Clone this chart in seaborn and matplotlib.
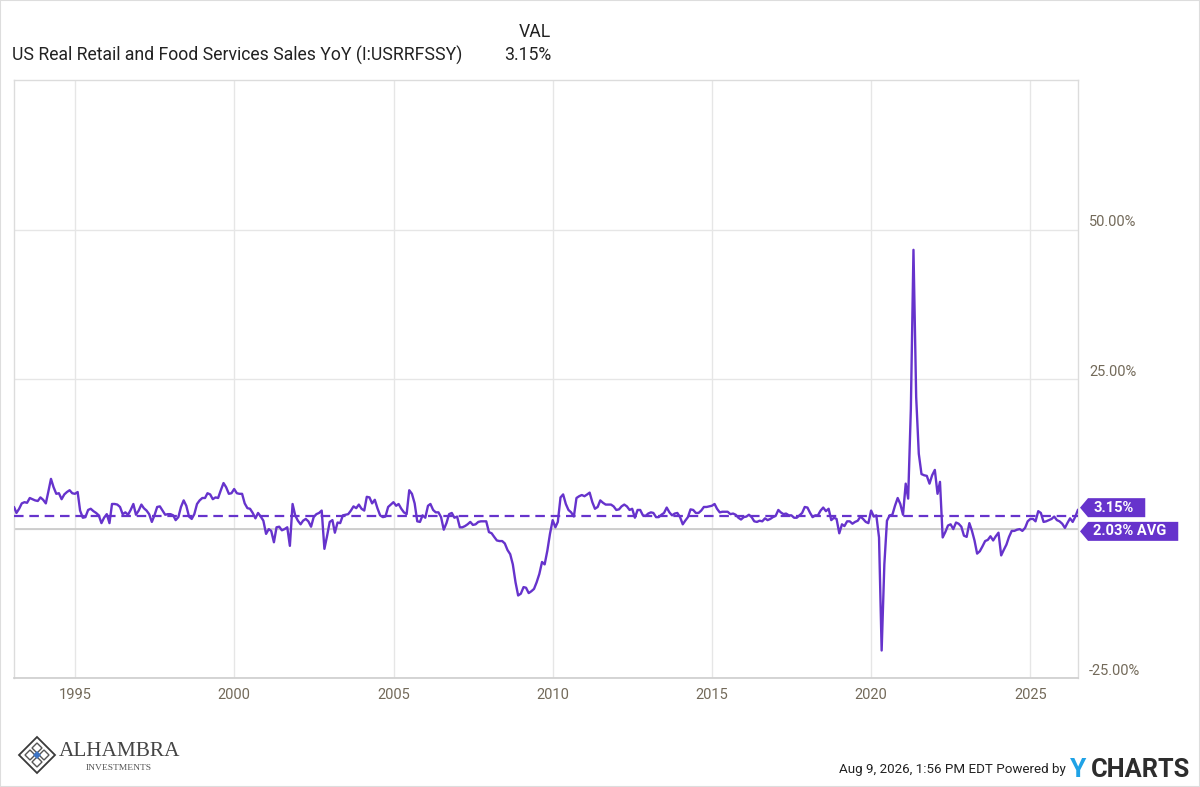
import pandas as pd
import matplotlib.pyplot as plt
import seaborn as sns
from matplotlib.patches import Polygon, Rectangle
from matplotlib.transforms import IdentityTransform

# monthly YoY % change (Jan 1993 .. Jun 2026)
y1993 = [3.6, 2.6, 3.3, 4.2, 4.4, 4.3, 5.1, 4.9, 4.7, 4.6, 5.2, 4.8]
y1994 = [4.2, 6.1, 8.3, 6.9, 5.8, 5.9, 4.9, 5.7, 6.1, 6.4, 5.9, 5.8]
y1995 = [6.1, 3.0, 1.8, 1.9, 3.1, 3.3, 2.9, 2.6, 2.2, 0.9, 1.8, 2.4]
y1996 = [0.9, 4.1, 4.1, 4.0, 3.6, 2.4, 2.7, 2.3, 3.1, 4.1, 2.3, 3.0]
y1997 = [4.0, 3.4, 3.0, 2.4, 1.1, 2.2, 3.6, 3.7, 3.0, 2.3, 2.4, 2.4]
y1998 = [2.2, 1.4, 1.9, 3.6, 4.7, 3.8, 2.0, 1.6, 2.4, 4.1, 4.7, 5.1]
y1999 = [5.1, 5.9, 5.7, 4.9, 5.2, 5.1, 6.4, 7.6, 6.9, 5.8, 5.9, 6.6]
y2000 = [5.9, 5.8, 5.8, 4.2, 3.4, 3.3, 2.6, 1.7, 2.6, 2.0, 1.3, -0.9]
y2001 = [-0.1, -0.4, -2.3, 0.2, 0.3, -0.3, -0.1, 0.2, -2.9, 4.1, 2.2, 1.3]
y2002 = [0.7, 1.3, 1.6, 1.2, 0.3, 1.9, 2.4, 2.6, 3.0, -3.4, -1.3, 1.1]
y2003 = [1.4, -0.7, 1.0, 0.9, 2.2, 2.3, 2.4, 3.0, 3.7, 3.4, 4.0, 3.3]
y2004 = [3.0, 5.3, 5.2, 4.2, 4.8, 3.4, 2.2, 1.9, 2.0, 3.6, 4.0, 4.4]
y2005 = [3.8, 4.1, 3.3, 2.7, 2.4, 6.4, 5.8, 4.2, 1.2, 1.1, 2.2, 1.8]
y2006 = [3.8, 4.1, 3.1, 2.7, 2.7, 1.9, -0.2, 0.9, 2.4, 2.6, 1.8, 2.0]
y2007 = [0.2, 0.2, 0.4, 0.7, 1.1, 0.6, 0.7, 1.1, 1.2, 1.2, 1.2, -0.6]
y2008 = [-0.8, -1.4, -2.0, -2.1, -2.1, -2.5, -3.6, -4.3, -6.0, -9.0, -11.2, -10.9]
y2009 = [-9.8, -9.9, -10.8, -10.5, -10.1, -9.0, -7.6, -5.6, -6.0, -3.7, -0.9, 1.4]
y2010 = [0.2, 1.1, 5.2, 5.7, 4.1, 3.1, 2.7, 2.0, 5.1, 5.4, 5.6, 5.4]
y2011 = [5.7, 6.0, 4.4, 3.3, 3.6, 4.7, 4.3, 4.0, 4.0, 4.0, 3.7, 3.1]
y2012 = [3.2, 3.7, 4.0, 3.7, 3.1, 3.3, 1.8, 3.1, 3.1, 2.2, 2.1, 2.5]
y2013 = [2.7, 2.6, 1.9, 1.9, 2.3, 2.6, 3.5, 2.7, 2.2, 2.5, 2.6, 1.9]
y2014 = [0.7, 1.3, 1.9, 3.2, 3.1, 2.6, 2.6, 3.0, 3.6, 3.6, 3.7, 3.8]
y2015 = [4.1, 3.3, 2.7, 2.8, 2.8, 2.8, 2.4, 2.5, 2.3, 1.8, 1.5, 1.9]
y2016 = [2.0, 2.3, 1.9, 1.2, 1.1, 1.3, 1.2, 1.7, 1.4, 1.6, 1.9, 2.1]
y2017 = [3.1, 2.7, 2.4, 2.5, 2.2, 2.2, 1.8, 1.8, 2.2, 2.6, 3.6, 3.5]
y2018 = [2.6, 1.9, 2.2, 2.2, 3.0, 3.5, 2.9, 3.3, 1.4, 1.8, 1.6, -0.8]
y2019 = [0.7, 0.4, 1.2, 1.2, 0.8, 1.1, 1.3, 2.0, 1.6, 1.1, 0.9, 3.0]
y2020 = [2.0, 2.2, -1.5, -20.4, -6.0, 1.3, 2.2, 2.3, 3.8, 5.1, 4.1, 2.3]
y2021 = [7.5, 5.0, 20.0, 46.6, 22.0, 12.5, 9.1, 8.9, 8.8, 7.5, 8.9, 9.8]
y2022 = [5.8, 7.8, -1.5, -0.6, 0.5, 0.7, -0.1, 1.0, 0.8, 0.3, -1.2, -1.4]
y2023 = [0.9, -0.3, -2.0, -4.2, -3.8, -3.0, -2.1, -1.9, -1.3, -2.0, -1.3, -0.7]
y2024 = [-4.5, -3.6, -2.7, -1.4, -0.4, -0.4, -0.2, -0.1, -0.4, 0.1, 1.2, 1.6]
y2025 = [1.6, 1.2, 2.9, 2.6, 1.1, 1.2, 1.4, 1.6, 2.0, 1.4, 1.2, 0.8]
y2026 = [0.1, 0.9, 1.7, 1.1, 2.0, 3.15]

values = (y1993 + y1994 + y1995 + y1996 + y1997 + y1998 + y1999 + y2000
          + y2001 + y2002 + y2003 + y2004 + y2005 + y2006 + y2007 + y2008
          + y2009 + y2010 + y2011 + y2012 + y2013 + y2014 + y2015 + y2016
          + y2017 + y2018 + y2019 + y2020 + y2021 + y2022 + y2023 + y2024
          + y2025 + y2026)
dates = pd.date_range("1993-01-31", periods=len(values), freq="ME")

last_value = 3.15
avg_value = 2.03
y_ticks = [-25, 0, 25, 50]
y_tick_labels = ["-25.00%", "", "25.00%", "50.00%"]   # zero line carries no label
x_years = [1995, 2000, 2005, 2010, 2015, 2020, 2025]
series_name = "US Real Retail and Food Services Sales YoY (I:USRRFSSY)"

PURPLE = "#6633cc"
TICK_COLOR = "#736a5a"
GRID = "#e6e6e6"

sns.set_theme(style="white")
plt.rcParams["font.family"] = ["Roboto", "DejaVu Sans"]

W, H = 1200, 787
fig = plt.figure(figsize=(W / 100, H / 100), dpi=100)
ax = fig.add_axes([14 / W, 1 - 678 / H, (1078 - 14) / W, (678 - 80) / H])

df = pd.DataFrame({"date": dates, "value": values})
sns.lineplot(data=df, x="date", y="value", color=PURPLE, lw=1.7, ax=ax, zorder=4)

ax.set_xlim(dates[0], dates[-1])
ax.set_ylim(-25, 75)

# grid
ax.set_xticks([pd.Timestamp(f"{y}-01-01") for y in x_years])
ax.set_xticklabels([str(y) for y in x_years])
ax.set_yticks(y_ticks)
ax.set_yticklabels(y_tick_labels)
ax.grid(True, color=GRID, lw=1)
ax.axhline(0, color="#c8c8c8", lw=1.2, zorder=2)
ax.axhline(avg_value, color=PURPLE, lw=1.6, ls=(0, (4.3, 2.6)), zorder=3)

ax.yaxis.tick_right()
ax.tick_params(axis="y", length=0, pad=8, labelsize=10.5, labelcolor=TICK_COLOR)
ax.tick_params(axis="x", length=0, pad=7, labelsize=10.5, labelcolor=TICK_COLOR)
for lab in ax.get_yticklabels():
    lab.set_verticalalignment("bottom")
ax.set_xlabel("")
ax.set_ylabel("")
for side in ["left", "right", "top"]:
    ax.spines[side].set_color("#dcdcdc")
    ax.spines[side].set_linewidth(1)
ax.spines["bottom"].set_color("#cfcfcf")

# value tags on the right (pointed purple labels)
renderer = fig.canvas.get_renderer()
x_edge = ax.transAxes.transform((1, 0))[0]


def value_tag(label, value, shift):
    yc = ax.transData.transform((0, value))[1] + shift
    t = fig.text((x_edge + 15) / W, yc / H, label, ha="left", va="center", color="white",
                 fontsize=10.5, fontweight="bold", zorder=6)
    bb = t.get_window_extent(renderer=renderer)
    half = 9.5
    pts = [(x_edge + 2, yc), (x_edge + 10, yc + half), (bb.x1 + 12, yc + half),
           (bb.x1 + 12, yc - half), (x_edge + 10, yc - half)]
    fig.add_artist(Polygon(pts, closed=True, transform=IdentityTransform(),
                           fc=PURPLE, ec="none", zorder=5))


value_tag(f"{last_value:.2f}%", last_value, 2)
value_tag(f"{avg_value:.2f}% AVG", avg_value, -15)

# header
fig.text(12 / W, 1 - 55 / H, series_name, ha="left", va="center", fontsize=12.7, color="#222222")
fig.text(551 / W, 1 - 32 / H, "VAL", ha="right", va="center", fontsize=12.7, color="#222222")
fig.text(551 / W, 1 - 55 / H, f"{last_value:.2f}%", ha="right", va="center", fontsize=12.7, color="#222222")

# footer
fig.text(1066 / W, 1 - 770 / H, "Aug 9, 2026, 1:56 PM EDT Powered by", ha="right", va="center",
         fontsize=9.6, color="#222222")
fig.text(1070 / W, 1 - 770 / H, "Y", ha="left", va="center", fontsize=19, fontweight="bold",
         color="#1fa2e6")
fig.text(1091 / W, 1 - 770 / H, "CHARTS", ha="left", va="center",
         fontsize=18.3, fontweight="bold", color="#2d2d2d")


def diamond(cx, cy, r, **kw):
    pts = [((cx) / W, 1 - (cy - r) / H), ((cx + r) / W, 1 - cy / H),
           ((cx) / W, 1 - (cy + r) / H), ((cx - r) / W, 1 - cy / H)]
    fig.add_artist(Polygon(pts, closed=True, transform=fig.transFigure, **kw))


# logo
diamond(37, 755, 18, fill=False, ec="#3a3a3a", lw=1.3)
for dx, dy in [(-7, 0), (7, 0), (0, -7), (0, 7)]:
    diamond(37 + dx, 755 + dy, 5, fill=False, ec="#555555", lw=1)
diamond(37, 755, 4, fc="#3d74c4", ec="none")
fig.text(59 / W, 1 - 752 / H, "ALHAMBRA", ha="left", va="center", fontsize=15.3,
         family=["Liberation Serif", "DejaVu Serif"], color="#444444")
fig.text(119 / W, 1 - 768 / H, "INVESTMENTS", ha="center", va="center", fontsize=6.8,
         family=["Liberation Serif", "DejaVu Serif"], color="#555555")

fig.add_artist(Rectangle((0, 0), 1, 1, transform=fig.transFigure, fill=False,
                         ec="#dddddd", lw=1.5))

fig.savefig("out.png", dpi=100)
